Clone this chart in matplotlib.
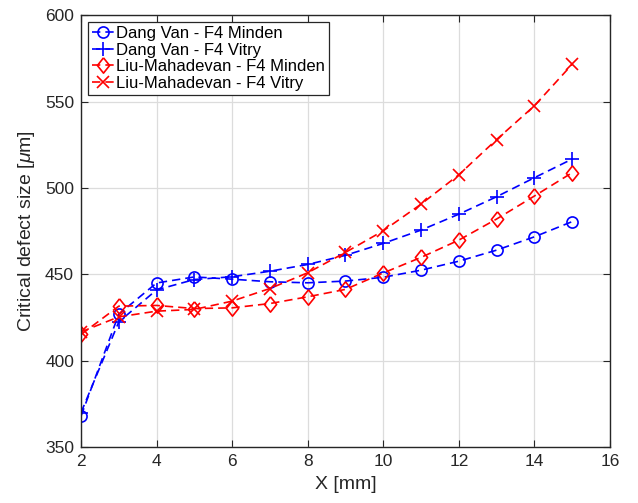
import matplotlib
matplotlib.use('Agg')
import matplotlib.pyplot as plt

# data
x = [2, 3, 4, 5, 6, 7, 8, 9, 10, 11, 12, 13, 14, 15]
dv_minden = [368, 427, 445, 448.5, 447.2, 445.7, 445.1, 446.1, 448.3, 452.4, 457.6, 464, 471.7, 480.5]
dv_vitry = [370, 422.5, 441, 447, 448.6, 451.8, 455.7, 461, 467.9, 475.6, 484.8, 494.9, 505.9, 516.7]
lm_minden = [415.2, 431.6, 432, 430.2, 430.6, 433.1, 437, 441.3, 450.8, 459.8, 469.8, 482, 495.3, 508.8]
lm_vitry = [416.7, 425.4, 428.7, 429.7, 434.5, 441.8, 450.9, 462.7, 475.2, 490.6, 507.6, 528, 547.5, 571.5]
labels = ['Dang Van - F4 Minden', 'Dang Van - F4 Vitry',
          'Liu-Mahadevan - F4 Minden', 'Liu-Mahadevan - F4 Vitry']

plt.rcParams['font.family'] = ['Liberation Sans', 'DejaVu Sans']
plt.rcParams['mathtext.fontset'] = 'custom'
plt.rcParams['mathtext.it'] = 'Liberation Sans:italic'

fig = plt.figure(figsize=(6.38, 5.03), dpi=100)
ax = fig.add_axes([0.127, 0.111, 0.829, 0.859])

# MATLAB-like diamond (slightly taller than wide)
diamond = [(0, 1), (0.8, 0), (0, -1), (-0.8, 0), (0, 1)]

dash = (5, 3)
ax.plot(x, dv_minden, '--o', color='blue', mfc='none', ms=8, mew=1.2, lw=1.2, dashes=dash, label=labels[0])
ax.plot(x, dv_vitry, '--+', color='blue', ms=10, mew=1.2, lw=1.2, dashes=dash, label=labels[1])
ax.plot(x, lm_minden, '--', marker=diamond, color='red', mfc='none', ms=11, mew=1.2, lw=1.2, dashes=dash, label=labels[2])
ax.plot(x, lm_vitry, '--x', color='red', ms=8, mew=1.2, lw=1.2, dashes=dash, label=labels[3])

ax.set_xlim(2, 16)
ax.set_ylim(350, 600)
ax.set_xticks(range(2, 17, 2))
ax.set_yticks(range(350, 601, 50))
ax.grid(True, color='#dcdcdc', lw=0.9)
ax.set_axisbelow(True)
ax.tick_params(direction='in', top=True, right=True, labelsize=12.5, colors='#262626', length=5, pad=5)
for s in ax.spines.values():
    s.set_color('#262626')
    s.set_linewidth(1.0)

ax.set_xlabel('X [mm]', fontsize=14, color='#262626', labelpad=5)
ax.set_ylabel(r'Critical defect size [$\mu$m]', fontsize=14, color='#262626', labelpad=6)

leg = ax.legend(loc='upper left', fontsize=12, handlelength=1.3, handletextpad=0.15,
                borderpad=0.25, labelspacing=0.1, borderaxespad=0.4, fancybox=False,
                framealpha=1, edgecolor='#262626')
leg.get_frame().set_linewidth(0.9)

plt.savefig('out.png', dpi=100)
